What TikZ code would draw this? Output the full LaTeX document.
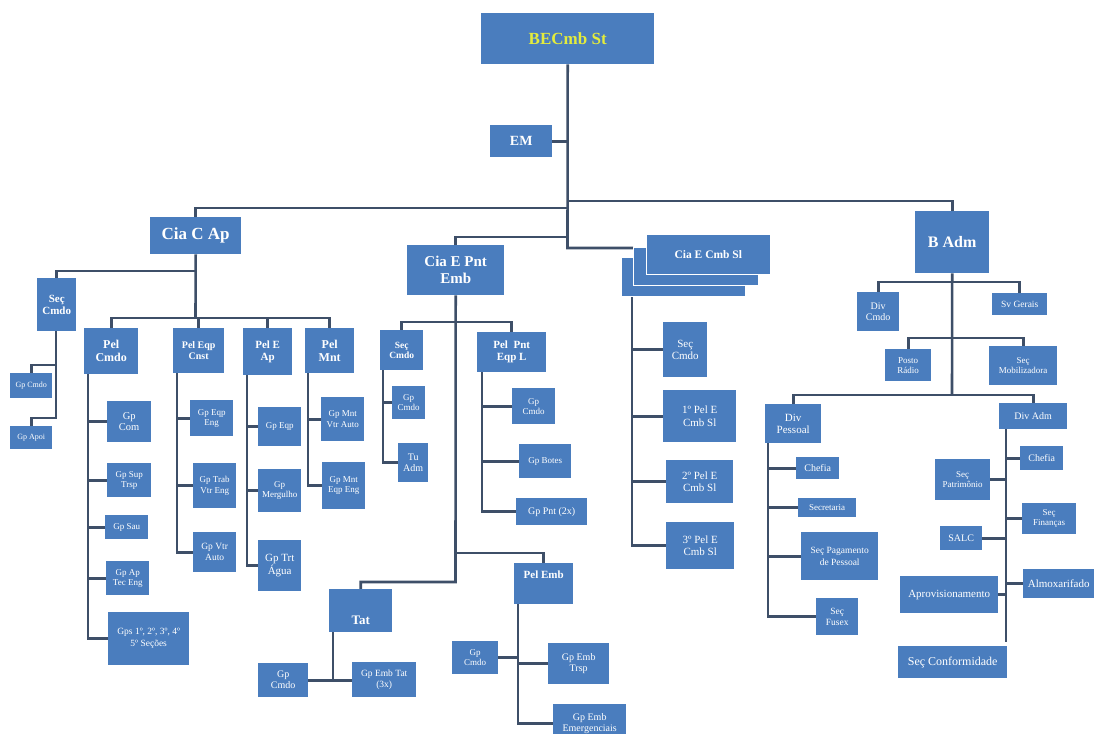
\documentclass[tikz,border=0pt]{standalone}
\usepackage{fontspec}
\setmainfont{Liberation Serif}
\definecolor{boxblue}{HTML}{4A7DBE}
\definecolor{lncol}{HTML}{3E4F68}
\definecolor{ttl}{HTML}{E4EC3C}
\newcommand\fs[2]{\fontsize{#1}{#2}\selectfont}
\newcommand\obox[6]{\node[box,#6,anchor=north west,minimum width={(#4-#2)*1pt},minimum height={(#5-#3)*1pt}] (#1) at (#2,#3)}
\pgfdeclarelayer{back}
\pgfdeclarelayer{bg}
\pgfsetlayers{back,bg,main}
\tikzset{
  box/.style={fill=boxblue,text=white,inner sep=0.5pt,align=center,font=\fs{8}{9}},
  ln/.style={draw=lncol,line width=2.6pt}
}
\begin{document}
\begin{tikzpicture}[x=1pt,y=-1pt]
\useasboundingbox (0,0) rectangle (1094,733);
\clip (0,0) rectangle (1094,733);
\begin{pgfonlayer}{back}
\fill[white] (0,0) rectangle (1094,733);
\end{pgfonlayer}
% top
\obox{becmb}{481}{13}{654}{64}{font=\fs{17}{19}\bfseries,text=ttl}{BECmb St};
\obox{em}{490}{125}{552}{157}{font=\fs{14}{16}\bfseries}{EM};
% Cia C Ap
\obox{cca}{150}{217}{241}{254}{font=\fs{17}{19}\bfseries}{Cia C Ap};
\obox{sc1}{37}{278}{76}{331}{font=\fs{11}{12}\bfseries}{Seç\\Cmdo};
\obox{gcmdo1}{10}{373}{52}{398}{font=\fs{8}{9}}{Gp Cmdo};
\obox{gapoi}{10}{426}{52}{449}{font=\fs{8}{9}}{Gp Apoi};
\obox{pcmdo}{84}{328}{138}{374}{font=\fs{12}{13}\bfseries}{Pel\\Cmdo};
\obox{peqc}{173}{328}{224}{373}{font=\fs{10}{11}\bfseries}{Pel Eqp\\Cnst};
\obox{pea}{243}{328}{292}{375}{font=\fs{11}{12}\bfseries}{Pel E\\Ap};
\obox{pmnt}{305}{328}{354}{373}{font=\fs{12}{13}\bfseries}{Pel\\Mnt};
\obox{gcom}{107}{401}{151}{442}{font=\fs{10.5}{11}}{Gp\\Com};
\obox{gsup}{107}{463}{151}{497}{font=\fs{9}{10}}{Gp Sup\\Trsp};
\obox{gsau}{105}{515}{148}{539}{font=\fs{9}{10}}{Gp Sau};
\obox{gate}{106}{561}{149}{595}{font=\fs{9}{10}}{Gp Ap\\Tec Eng};
\obox{gps}{108}{612}{189}{665}{font=\fs{9.5}{12}}{Gps 1º, 2º, 3º, 4º\\5º Seções};
\obox{geqe}{190}{400}{233}{436}{font=\fs{9}{10}}{Gp Eqp\\Eng};
\obox{gtve}{193}{463}{236}{508}{font=\fs{9}{10.5}}{Gp Trab\\Vtr Eng};
\obox{gva}{193}{532}{236}{572}{font=\fs{9.5}{11}}{Gp Vtr\\Auto};
\obox{geqp}{258}{407}{301}{446}{font=\fs{9}{10}}{Gp Eqp};
\obox{gmerg}{258}{469}{301}{512}{font=\fs{9}{10.5}}{Gp\\Mergulho};
\obox{gtrt}{258}{540}{301}{591}{font=\fs{11}{13}}{Gp Trt\\Água};
\obox{gmva}{321}{397}{364}{441}{font=\fs{9}{10.5}}{Gp Mnt\\Vtr Auto};
\obox{gmee}{322}{462}{365}{509}{font=\fs{9}{10.5}}{Gp Mnt\\Eqp Eng};
% Cia E Pnt Emb
\obox{cepe}{407}{245}{504}{295}{font=\fs{15}{17}\bfseries}{Cia E Pnt\\Emb};
\obox{sc2}{380}{330}{423}{370}{font=\fs{9.5}{10.5}\bfseries}{Seç\\Cmdo};
\obox{pppl}{477}{332}{546}{372}{font=\fs{11}{12}\bfseries}{Pel\ \ Pnt\\Eqp L};
\obox{gcmdo2}{392}{386}{425}{419}{font=\fs{9}{10}}{Gp\\Cmdo};
\obox{tuadm}{398}{443}{428}{482}{font=\fs{10}{11}}{Tu\\Adm};
\obox{gcmdo2b}{512}{388}{555}{424}{font=\fs{9}{10}}{Gp\\Cmdo};
\obox{gbotes}{519}{444}{571}{478}{font=\fs{9}{10}}{Gp Botes};
\obox{gpnt}{516}{498}{587}{525}{font=\fs{10}{11}}{Gp Pnt (2x)};
\obox{tat}{329}{589}{392}{632}{font=\fs{13}{14}\bfseries}{\raisebox{-14pt}[0pt][0pt]{Tat}};
\obox{gcmdo3}{258}{663}{308}{697}{font=\fs{10}{11}}{Gp\\Cmdo};
\obox{gemt}{352}{662}{416}{697}{font=\fs{9.5}{10.5}}{Gp Emb Tat\\(3x)};
\obox{pemb}{514}{563}{573}{604}{font=\fs{11}{12}\bfseries}{\raisebox{5pt}[0pt][0pt]{Pel Emb}};
\obox{gcmdo4}{452}{641}{498}{674}{font=\fs{9}{10}}{Gp\\Cmdo};
\obox{gembt}{548}{643}{609}{684}{font=\fs{10}{11}}{Gp Emb\\Trsp};
\obox{gembe}{553}{704}{626}{742}{font=\fs{10}{11}}{Gp Emb\\Emergenciais};
% Cia E Cmb Sl
\obox{cecs3}{621}{257}{745}{296}{draw=white,line width=0.6pt}{};
\obox{cecs2}{633}{247}{758}{285}{draw=white,line width=0.6pt}{};
\obox{cecs}{646}{234}{770}{274}{draw=white,line width=0.6pt,font=\fs{11.5}{12}\bfseries}{Cia E Cmb Sl};
\obox{sc3}{663}{322}{707}{377}{font=\fs{11}{12}}{Seç\\Cmdo};
\obox{p1}{663}{390}{736}{442}{font=\fs{11}{12.5}}{1º Pel E\\Cmb Sl};
\obox{p2}{666}{460}{733}{503}{font=\fs{11}{12.5}}{2º Pel E\\Cmb Sl};
\obox{p3}{666}{522}{734}{569}{font=\fs{11}{12.5}}{3º Pel E\\Cmb Sl};
% B Adm
\obox{badm}{915}{211}{989}{273}{font=\fs{16}{18}\bfseries}{B Adm};
\obox{dcmdo}{857}{292}{899}{331}{font=\fs{10}{11}}{Div\\Cmdo};
\obox{sger}{992}{293}{1047}{315}{font=\fs{9.5}{10}}{Sv Gerais};
\obox{prad}{885}{349}{931}{381}{font=\fs{9}{10}}{Posto\\Rádio};
\obox{smob}{989}{346}{1057}{385}{font=\fs{9}{10.5}}{Seç\\Mobilizadora};
\obox{dpes}{765}{404}{821}{443}{font=\fs{11}{12}}{Div\\Pessoal};
\obox{dadm}{999}{403}{1067}{429}{font=\fs{10}{11}}{Div Adm};
\obox{chef1}{796}{457}{839}{479}{font=\fs{10}{11}}{Chefia};
\obox{secr}{798}{498}{856}{517}{font=\fs{9}{10}}{Secretaria};
\obox{spag}{801}{532}{878}{580}{font=\fs{9.5}{12}}{Seç Pagamento\\de Pessoal};
\obox{sfus}{816}{598}{858}{635}{font=\fs{9.5}{11}}{Seç\\Fusex};
\obox{chef2}{1020}{446}{1063}{470}{font=\fs{10}{11}}{Chefia};
\obox{sfin}{1022}{503}{1076}{534}{font=\fs{9}{10.5}}{Seç\\Finanças};
\obox{almox}{1023}{569}{1094}{598}{font=\fs{11}{12}}{Almoxarifado};
\obox{spat}{935}{459}{990}{500}{font=\fs{9}{10.5}}{Seç\\Patrimônio};
\obox{salc}{940}{526}{982}{550}{font=\fs{10}{11}}{SALC};
\obox{aprov}{900}{576}{998}{613}{font=\fs{11}{12}}{Aprovisionamento};
\obox{sconf}{898}{646}{1007}{678}{font=\fs{12}{13}}{Seç Conformidade};

\begin{pgfonlayer}{bg}
% trunk
\coordinate (tA) at (567.5,201);
\coordinate (tB) at (567.5,208);
\coordinate (tC) at (567.5,237);
\coordinate (tD) at (567.5,248);
\draw[ln] (becmb.south) -- (tD) -- (tD -| cecs2.west);
\draw[ln] (em.east) -- (em.east -| tD);
\draw[ln] (tB) -| (cca.north);
\draw[ln] (tC) -| (cepe.north);
\draw[ln] (tA) -| (badm.north);
% Cia C Ap
\coordinate (ca1) at (195.5,271);
\coordinate (ca2) at (195.5,318);
\draw[ln] (cca.south) -- (ca2);
\draw[ln] (ca1) -| (sc1.north);
\draw[ln] (pcmdo.north) |- (ca2) -| (pmnt.north);
\draw[ln] (peqc.north) -- (peqc.north |- ca2);
\draw[ln] (pea.north) -- (pea.north |- ca2);
\coordinate (s1) at (56,331);
\coordinate (s1a) at (56,365);
\coordinate (s1b) at (56,418);
\draw[ln] (s1) -- (s1b) -| (gapoi.north);
\draw[ln] (s1a) -| (gcmdo1.north);
\coordinate (s2) at (88,374);
\draw[ln] (s2) |- (gps.west);
\foreach \n in {gcom,gsup,gsau,gate} \draw[ln] (s2 |- \n.west) -- (\n.west);
\coordinate (s3) at (177,373);
\draw[ln] (s3) |- (gva.west);
\foreach \n in {geqe,gtve} \draw[ln] (s3 |- \n.west) -- (\n.west);
\coordinate (s4) at (247,375);
\draw[ln] (s4) |- (gtrt.west);
\foreach \n in {geqp,gmerg} \draw[ln] (s4 |- \n.west) -- (\n.west);
\coordinate (s5) at (308,373);
\draw[ln] (s5) |- (gmee.west);
\draw[ln] (s5 |- gmva.west) -- (gmva.west);
% Cia E Pnt Emb
\coordinate (e1) at (455.5,322);
\coordinate (e2) at (455.5,553);
\coordinate (e3) at (455.5,582);
\draw[ln] (cepe.south) -- (e3) -| (tat.north);
\draw[ln] (e2) -| (pemb.north);
\draw[ln] (sc2.north) |- (e1) -| (pppl.north);
\coordinate (s6) at (383,370);
\draw[ln] (s6) |- (tuadm.west);
\draw[ln] (s6 |- gcmdo2.west) -- (gcmdo2.west);
\coordinate (s7) at (482,372);
\draw[ln] (s7) |- (gpnt.west);
\foreach \n in {gcmdo2b,gbotes} \draw[ln] (s7 |- \n.west) -- (\n.west);
\coordinate (s8) at (333,632);
\draw[ln] (gcmdo3.east) -- (gcmdo3.east -| gemt.west);
\draw[ln] (s8) -- (s8 |- gcmdo3.east);
\coordinate (s9) at (518,604);
\draw[ln] (s9) |- (gembe.west);
\draw[ln] (s9 |- gembt.west) -- (gembt.west);
\draw[ln] (gcmdo4.east) -- (gcmdo4.east -| s9);
% Cia E Cmb Sl
\coordinate (s10) at (632,296);
\draw[ln] (s10) |- (p3.west);
\foreach \n in {sc3,p1,p2} \draw[ln] (s10 |- \n.west) -- (\n.west);
% B Adm
\coordinate (b1) at (952,282);
\coordinate (b2) at (952,338);
\coordinate (b3) at (952,395);
\draw[ln] (badm.south) -- (b3);
\draw[ln] (dcmdo.north) |- (b1) -| (sger.north);
\draw[ln] (prad.north) |- (b2) -| (smob.north);
\draw[ln] (dpes.north) |- (b3) -| (dadm.north);
\coordinate (s11) at (768,443);
\draw[ln] (s11) |- (sfus.west);
\foreach \n in {chef1,secr,spag} \draw[ln] (s11 |- \n.west) -- (\n.west);
\coordinate (s12) at (1006,429);
\coordinate (s12e) at (1006,642);
\draw[ln] (s12) -- (s12e);
\foreach \n in {chef2,sfin,almox} \draw[ln] (s12 |- \n.west) -- (\n.west);
\foreach \n in {spat,salc,aprov} \draw[ln] (\n.east) -- (\n.east -| s12);
\end{pgfonlayer}
\end{tikzpicture}
\end{document}
